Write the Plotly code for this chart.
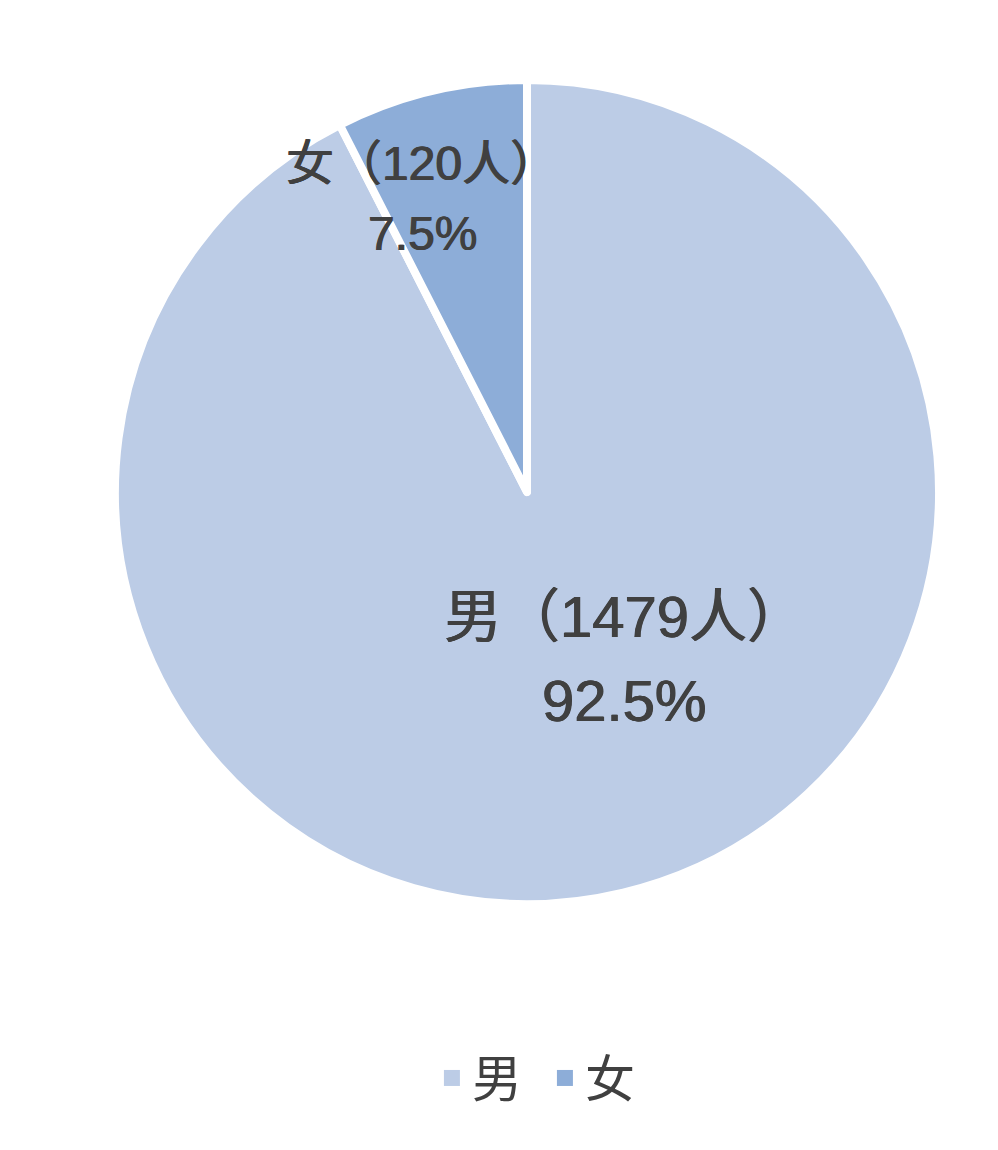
import numpy as np
import plotly.graph_objects as go

# --- data ---
labels = ["男", "女"]
counts = [1479, 120]
colors = ["#BCCCE6", "#8DADD8"]

total = sum(counts)
shares = [c / total * 100 for c in counts]

# --- geometry of the pie in pixels (for placing the labels) ---
W, H = 998, 1150
OFF = 8  # default body margin of the html page
cx, cy, R = 527 - OFF, 492 - OFF, 412
dom_x = [(cx - R) / W, (cx + R) / W]
dom_y = [1 - (cy + R) / H, 1 - (cy - R) / H]

# label placement: (angle clockwise from 12 o'clock, fraction of radius, font size, line gap)
label_pos = [(149.7, 0.468, 58, 84), (-19.6, 0.757, 48, 70)]

TXT = "#404040"
thick = f"0.6px 0 0 {TXT}, -0.6px 0 0 {TXT}"

fig = go.Figure(go.Pie(
    labels=labels,
    values=counts,
    sort=False,
    direction="clockwise",
    rotation=0,
    marker=dict(colors=colors, line=dict(color="white", width=8)),
    textinfo="none",
    hoverinfo="label+value+percent",
    domain=dict(x=dom_x, y=dom_y),
    showlegend=False,
))

# legend-only entries so the swatches are plain squares
for lab, col in zip(labels, colors):
    fig.add_trace(go.Scatter(
        x=[None], y=[None], mode="markers", name=lab,
        marker=dict(symbol="square", size=16, color=col),
    ))

annotations = []
for lab, n, pct, (ang, rf, fs, gap) in zip(labels, counts, shares, label_pos):
    a = np.deg2rad(ang)
    px = cx + rf * R * np.sin(a)
    py = cy - rf * R * np.cos(a)
    for txt, dy in [(f"{lab}（{n}人）", -gap / 2), (f"{pct:.1f}%", gap / 2)]:
        annotations.append(dict(
            x=px / W, y=1 - (py + dy) / H, xref="paper", yref="paper",
            xanchor="center", yanchor="middle",
            text=txt, showarrow=False,
            font=dict(size=fs, color=TXT, shadow=thick),
        ))

fig.update_layout(
    width=W, height=H,
    margin=dict(l=0, r=0, t=0, b=0),
    paper_bgcolor="white",
    plot_bgcolor="white",
    xaxis=dict(visible=False),
    yaxis=dict(visible=False),
    font=dict(family="Liberation Sans, Noto Sans CJK SC, sans-serif", color=TXT),
    annotations=annotations,
    showlegend=True,
    legend=dict(
        orientation="h",
        x=0.538, xanchor="center",
        y=0.0696, yanchor="middle",
        entrywidth=68,
        font=dict(size=50, color=TXT),
    ),
)

fig.write_html("out.html")
